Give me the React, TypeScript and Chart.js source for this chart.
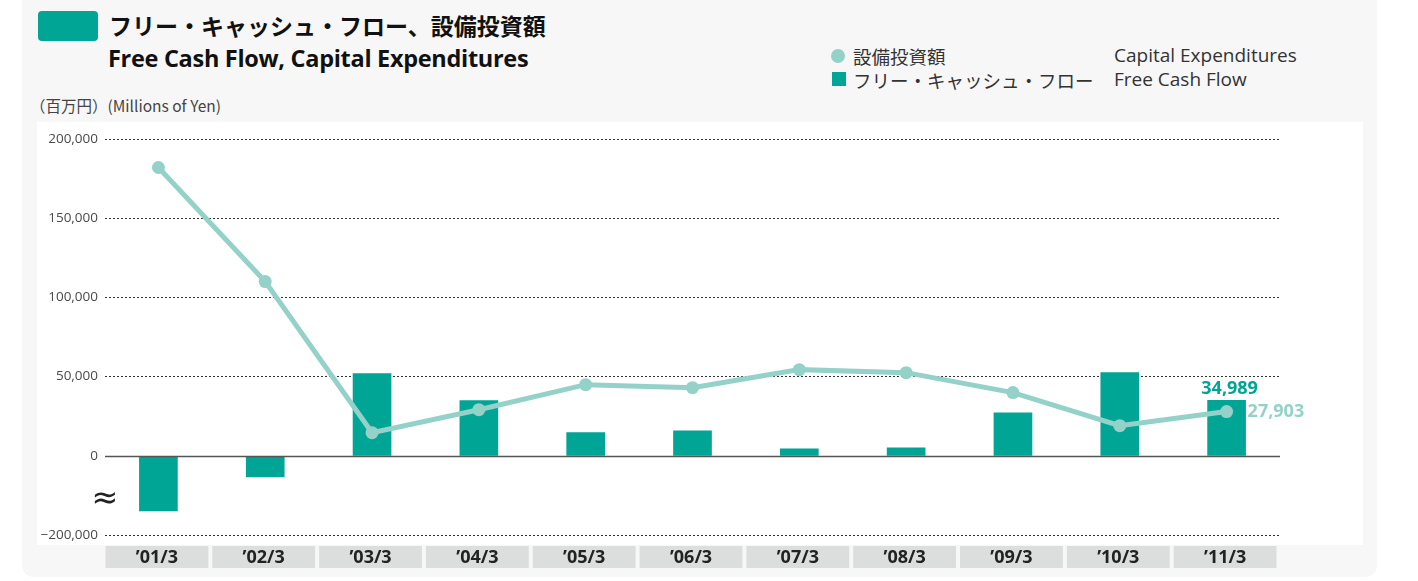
import React, { useEffect, useRef } from "react";
import { Chart, registerables } from "chart.js";

Chart.register(...registerables);

const categories = ["’01/3", "’02/3", "’03/3", "’04/3", "’05/3", "’06/3", "’07/3", "’08/3", "’09/3", "’10/3", "’11/3"];
const capexValues = [182000, 110000, 14600, 29100, 44900, 43000, 54400, 52500, 39900, 19000, 27903];
const fcfValues = [-34800, -13300, 51900, 34800, 14600, 15800, 4400, 5100, 27200, 52500, 34989];
const yTickValues = [-50000, 0, 50000, 100000, 150000, 200000];
const yTickLabels = ["−200,000", "0", "50,000", "100,000", "150,000", "200,000"];
const lastFcfLabel = "34,989";
const lastCapexLabel = "27,903";

const TEAL = "#00a596";
const LIGHT = "#94d2c9";

const overlayPlugin = {
  id: "overlay",
  afterDatasetsDraw(chart: any) {
    const { ctx, chartArea, scales } = chart;
    const y = scales.y;
    const x = scales.x;
    ctx.save();
    // zero line
    const y0 = Math.round(y.getPixelForValue(0)) + 0.5;
    ctx.strokeStyle = "#555";
    ctx.lineWidth = 1.3;
    ctx.beginPath();
    ctx.moveTo(chartArea.left, y0);
    ctx.lineTo(chartArea.right, y0);
    ctx.stroke();
    // axis break mark
    const yb = (y.getPixelForValue(0) + y.getPixelForValue(yTickValues[0])) / 2;
    ctx.fillStyle = "#222";
    ctx.font = "32px 'DejaVu Sans'";
    ctx.textAlign = "center";
    ctx.textBaseline = "middle";
    ctx.fillText("≈", chartArea.left, yb + 4);
    // category boxes
    const band = (x.getPixelForValue(1) - x.getPixelForValue(0));
    const boxTop = chartArea.bottom + 11;
    const boxH = 22;
    categories.forEach((c, i) => {
      const cx = x.getPixelForValue(i);
      ctx.fillStyle = "#dcdddd";
      ctx.fillRect(cx - band / 2 + 0.5, boxTop, band - 4, boxH);
      ctx.fillStyle = "#222";
      ctx.font = "bold 18px 'Open Sans'";
      ctx.textAlign = "center";
      ctx.textBaseline = "middle";
      ctx.fillText(c, cx - 1.5, boxTop + boxH / 2 + 1);
    });
    // value labels for last year
    const n = categories.length - 1;
    const barMeta = chart.getDatasetMeta(1);
    const lineMeta = chart.getDatasetMeta(0);
    const bar = barMeta.data[n];
    const pt = lineMeta.data[n];
    ctx.font = "bold 18px 'Open Sans'";
    ctx.fillStyle = TEAL;
    ctx.textAlign = "center";
    ctx.textBaseline = "alphabetic";
    ctx.fillText(lastFcfLabel, bar.x + 3, bar.y - 6);
    ctx.fillStyle = LIGHT;
    ctx.textAlign = "left";
    ctx.textBaseline = "middle";
    ctx.fillText(lastCapexLabel, pt.x + 21, pt.y);
    ctx.restore();
  },
};

export default function App() {
  const canvasRef = useRef<HTMLCanvasElement>(null);
  useEffect(() => {
    const canvas = canvasRef.current;
    if (!canvas) return;
    const chart = new Chart(canvas, {
      type: "bar",
      data: {
        labels: categories,
        datasets: [
          {
            type: "line",
            label: "設備投資額",
            data: capexValues,
            borderColor: LIGHT,
            backgroundColor: LIGHT,
            borderWidth: 5,
            pointRadius: 6.5,
            pointBackgroundColor: LIGHT,
            pointBorderWidth: 0,
            tension: 0,
            order: 0,
          } as any,
          {
            type: "bar",
            label: "フリー・キャッシュ・フロー",
            data: fcfValues,
            backgroundColor: TEAL,
            barThickness: 38,
            order: 1,
          },
        ],
      },
      options: {
        responsive: false,
        animation: false,
        devicePixelRatio: 1,
        layout: { padding: { top: 17, right: 83, bottom: 37, left: 0 } },
        plugins: { legend: { display: false }, tooltip: { enabled: false } },
        scales: {
          x: { display: false, offset: true, grid: { display: false } },
          y: {
            min: -50000,
            max: 200000,
            afterBuildTicks: (axis: any) => {
              axis.ticks = yTickValues.map((v) => ({ value: v }));
            },
            afterFit: (axis: any) => {
              axis.width = 68;
            },
            ticks: {
              padding: 7,
              color: "#4a4a4a",
              font: { family: "'Open Sans'", size: 13.5 },
              callback: (v: any) => {
                const i = yTickValues.indexOf(Number(v));
                return i >= 0 ? yTickLabels[i] : "";
              },
            },
            grid: {
              drawTicks: false,
              color: (c: any) => (c.tick && c.tick.value === 0 ? "rgba(0,0,0,0)" : "#333"),
              lineWidth: 1,
            },
            border: { display: false, dash: [2, 2] },
          },
        },
      },
      plugins: [overlayPlugin],
    });
    return () => chart.destroy();
  }, []);

  const jp = "'Noto Sans CJK JP', sans-serif";
  const en = "'Open Sans', sans-serif";
  return (
    <div style={{ position: "absolute", left: 0, top: 0, width: 1418, height: 581, background: "#fff", overflow: "hidden" }}>
      <div style={{ position: "absolute", left: 22, top: -12, width: 1355, height: 589, background: "#f7f7f7", borderRadius: 12 }} />
      <div style={{ position: "absolute", left: 38, top: 11, width: 60, height: 30, background: TEAL, borderRadius: 4 }} />
      <div style={{ position: "absolute", left: 109, top: 8, fontFamily: jp, fontWeight: 700, fontSize: 23, lineHeight: "34px", color: "#111", whiteSpace: "nowrap" }}>
        フリー・キャッシュ・フロー、設備投資額
      </div>
      <div style={{ position: "absolute", left: 108, top: 41, fontFamily: en, fontWeight: 700, fontSize: 23.5, lineHeight: "34px", color: "#111", whiteSpace: "nowrap", letterSpacing: -0.3 }}>
        Free Cash Flow, Capital Expenditures
      </div>
      <div style={{ position: "absolute", left: 30, top: 93, fontFamily: jp, fontSize: 15.5, lineHeight: "24px", color: "#444", whiteSpace: "nowrap" }}>
        （百万円）(Millions of Yen)
      </div>
      {/* legend */}
      <div style={{ position: "absolute", left: 831, top: 49, width: 14, height: 14, borderRadius: 7, background: LIGHT }} />
      <div style={{ position: "absolute", left: 853, top: 42, fontFamily: jp, fontSize: 18.5, lineHeight: "28px", color: "#333", whiteSpace: "nowrap" }}>設備投資額</div>
      <div style={{ position: "absolute", left: 1114, top: 41, fontFamily: en, fontSize: 19, lineHeight: "28px", color: "#333", whiteSpace: "nowrap" }}>Capital Expenditures</div>
      <div style={{ position: "absolute", left: 832, top: 72, width: 14, height: 14, background: TEAL }} />
      <div style={{ position: "absolute", left: 853, top: 66, fontFamily: jp, fontSize: 18.5, lineHeight: "28px", color: "#333", whiteSpace: "nowrap" }}>フリー・キャッシュ・フロー</div>
      <div style={{ position: "absolute", left: 1114, top: 65, fontFamily: en, fontSize: 19, lineHeight: "28px", color: "#333", whiteSpace: "nowrap" }}>Free Cash Flow</div>
      {/* plot */}
      <div style={{ position: "absolute", left: 37, top: 122, width: 1326, height: 423, background: "#fff" }} />
      <div style={{ position: "absolute", left: 37, top: 122, width: 1326, height: 450 }}>
        <canvas ref={canvasRef} width={1326} height={450} style={{ display: "block", width: 1326, height: 450 }} />
      </div>
    </div>
  );
}
